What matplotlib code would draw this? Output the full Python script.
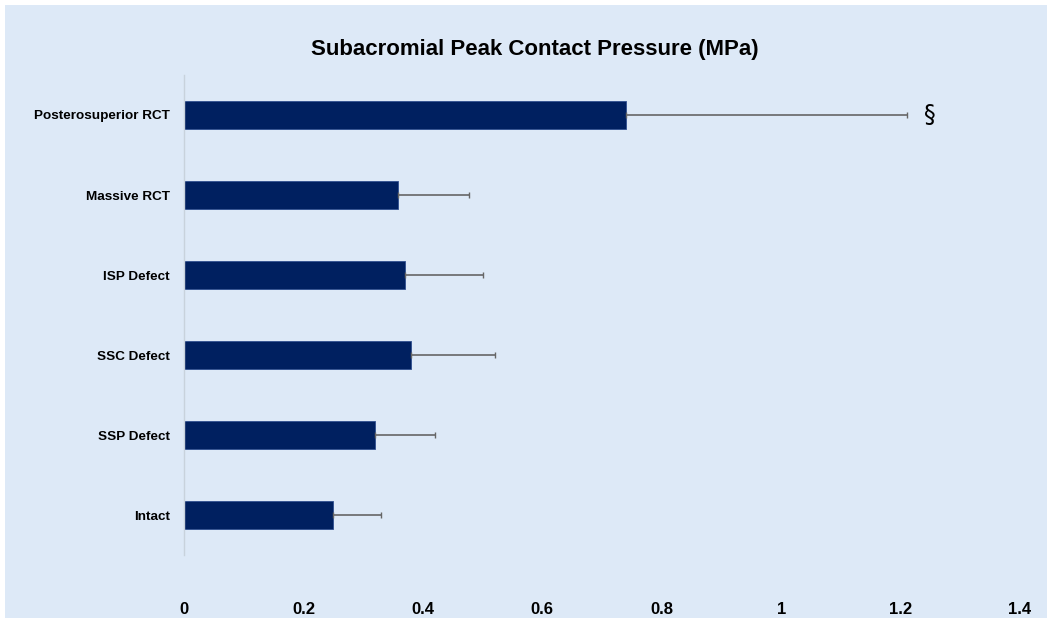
import matplotlib.pyplot as plt
from matplotlib.patches import Rectangle

categories = ["Intact", "SSP Defect", "SSC Defect", "ISP Defect", "Massive RCT", "Posterosuperior RCT"]
means = [0.25, 0.32, 0.38, 0.37, 0.358, 0.74]
sds = [0.08, 0.10, 0.14, 0.13, 0.12, 0.47]
xticks = [0, 0.2, 0.4, 0.6, 0.8, 1, 1.2, 1.4]
xtick_labels = ["0", "0.2", "0.4", "0.6", "0.8", "1", "1.2", "1.4"]

plt.rcParams['font.family'] = ['Liberation Sans', 'DejaVu Sans']

fig = plt.figure(figsize=(10.52, 6.22), dpi=100)
fig.patch.set_facecolor('white')
bg = '#dde9f7'
fig.patches.append(Rectangle((5 / 1052, 4 / 622), 1042 / 1052, 613 / 622,
                             transform=fig.transFigure, facecolor=bg,
                             edgecolor='none', zorder=-1))

ax = fig.add_axes([184 / 1052, 1 - 555 / 622, 836 / 1052, 480 / 622])
ax.set_facecolor('none')

y = range(len(categories))
ax.barh(y, means, height=0.35, color='#002060', edgecolor='#2f4f8f', linewidth=0.6, zorder=2)
ax.errorbar(means, y, xerr=[[0] * len(sds), sds], fmt='none', ecolor='#666666',
            elinewidth=1.2, capsize=2, capthick=1, zorder=3)

ax.text(means[-1] + sds[-1] + 0.03, 5, "§", fontsize=17, va='center', ha='left',
        family=['DejaVu Sans'])

ax.set_xlim(0, 1.4)
ax.set_ylim(-0.5, 5.5)
ax.set_xticks(xticks)
ax.set_xticklabels(xtick_labels, fontsize=12, fontweight='bold')
ax.set_yticks(list(y))
ax.set_yticklabels(categories, fontsize=9.7, fontweight='bold')
ax.tick_params(axis='both', length=0)
ax.tick_params(axis='x', pad=34)
ax.tick_params(axis='y', pad=10)

for s in ['top', 'right', 'bottom']:
    ax.spines[s].set_visible(False)
ax.spines['left'].set_color('#c8d2dc')
ax.spines['left'].set_linewidth(1)

fig.text(535 / 1052, 1 - 50 / 622, "Subacromial Peak Contact Pressure (MPa)", ha='center',
         va='center', fontsize=16, fontweight='bold')

fig.savefig('out.png', dpi=100)
